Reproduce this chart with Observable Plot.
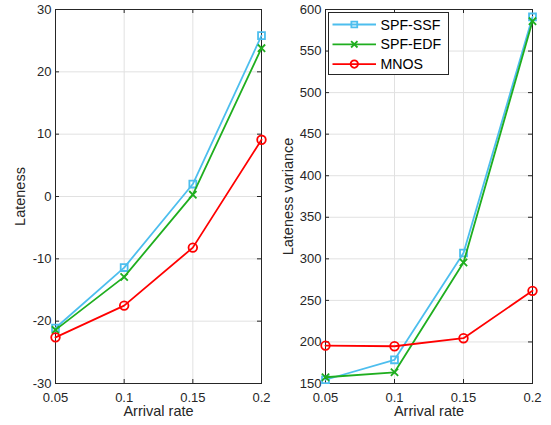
<!DOCTYPE html>
<html>
<head>
<meta charset="utf-8">
<script src="https://cdn.jsdelivr.net/npm/d3@7"></script>
<script src="https://cdn.jsdelivr.net/npm/@observablehq/plot@0.6"></script>
<style>
  html, body { margin: 0; padding: 0; background: #fff; }
  #wrap { position: relative; width: 551px; height: 425px; font-family: "Liberation Sans", Arial, sans-serif; }
  #wrap > svg, #wrap > div { position: absolute; top: 0; }
</style>
</head>
<body>
<div id="wrap"></div>
<script>
const rates = [0.05, 0.1, 0.15, 0.2];
const xTicks = [0.05, 0.1, 0.15, 0.2];
const xTickLabels = ["0.05", "0.1", "0.15", "0.2"];
const seriesNames = ["SPF-SSF", "SPF-EDF", "MNOS"];
const seriesColors = ["#4dbeee", "#1fae1f", "#ff0000"];
const seriesSymbols = ["square", "times", "circle"];
const latSSF = [-21.1, -11.4, 2.0, 25.8];
const latEDF = [-21.4, -12.9, 0.3, 23.8];
const latMNOS = [-22.6, -17.5, -8.2, 9.1];
const varSSF = [154.5, 178.5, 307, 591];
const varEDF = [157.5, 163.5, 295.5, 586];
const varMNOS = [195.6, 194.8, 204.5, 261.5];
const latTicks = [-30, -20, -10, 0, 10, 20, 30];
const varTicks = [150, 200, 250, 300, 350, 400, 450, 500, 550, 600];

const FONT = '"Liberation Sans", Arial, sans-serif';

function makePanel({width, ml, mr, series, yDomain, yTicks, yLabel}) {
  const height = 425, mt = 9, mb = 42;
  const pw = width - ml - mr, ph = height - mt - mb;
  const tk = 4;
  const rows = [];
  series.forEach((vals, si) => vals.forEach((v, i) => rows.push({x: rates[i], y: v, s: seriesNames[si]})));
  const marks = [
    Plot.gridX(xTicks, {stroke: "#e1e1e1", strokeOpacity: 1}),
    Plot.gridY(yTicks, {stroke: "#e1e1e1", strokeOpacity: 1}),
    // inward ticks on all four sides
    Plot.tickY(yTicks, {y: d => d, insetRight: pw - tk, stroke: "#262626"}),
    Plot.tickY(yTicks, {y: d => d, insetLeft: pw - tk, stroke: "#262626"}),
    Plot.tickX(xTicks, {x: d => d, insetTop: ph - tk, stroke: "#262626"}),
    Plot.tickX(xTicks, {x: d => d, insetBottom: ph - tk, stroke: "#262626"}),
    Plot.axisX(xTicks, {tickSize: 0, tickPadding: 9, tickFormat: (d, i) => xTickLabels[i], fontSize: 13, fill: "#262626", label: null}),
    Plot.axisY(yTicks, {tickSize: 0, tickPadding: 4, tickFormat: d => String(d), fontSize: 13, fill: "#262626", label: null}),
    Plot.frame({stroke: "#262626"}),
  ];
  seriesNames.forEach((name, si) => {
    const data = rows.filter(r => r.s === name);
    marks.push(Plot.line(data, {x: "x", y: "y", stroke: seriesColors[si], strokeWidth: 1.8}));
    marks.push(Plot.dot(data, {x: "x", y: "y", stroke: seriesColors[si], fill: "none", strokeWidth: 1.8,
      symbol: seriesSymbols[si], r: si === 0 ? 3.9 : si === 1 ? 3.4 : 4.3}));
  });
  marks.push(Plot.text(["Arrival rate"], {text: d => d, frameAnchor: "bottom", dy: 28, lineAnchor: "middle", fontSize: 14.5, fill: "#262626"}));
  marks.push(Plot.text([yLabel], {text: d => d, frameAnchor: "left", dx: ml === 55 ? -35 : -37, rotate: -90, lineAnchor: "middle", textAnchor: "middle", fontSize: 14.5, fill: "#262626"}));
  return Plot.plot({
    width, height, marginLeft: ml, marginRight: mr, marginTop: mt, marginBottom: mb,
    style: {fontFamily: FONT, background: "transparent", overflow: "visible"},
    x: {domain: [0.05, 0.2]},
    y: {domain: yDomain},
    marks
  });
}

const wrap = document.getElementById("wrap");
const left = makePanel({width: 275, ml: 55, mr: 14, series: [latSSF, latEDF, latMNOS], yDomain: [-30, 30], yTicks: latTicks, yLabel: "Lateness"});
left.style.left = "0px";
wrap.appendChild(left);
const right = makePanel({width: 276, ml: 50, mr: 19, series: [varSSF, varEDF, varMNOS], yDomain: [150, 600], yTicks: varTicks, yLabel: "Lateness variance"});
right.style.left = "275px";
wrap.appendChild(right);

// legend
const lg = d3.create("svg").attr("width", 121).attr("height", 63)
  .style("position", "absolute").style("left", "328px").style("top", "12px");
lg.append("rect").attr("x", 0.5).attr("y", 0.5).attr("width", 120).attr("height", 62)
  .attr("fill", "#fff").attr("stroke", "#262626");
seriesNames.forEach((name, i) => {
  const cy = 12.5 + i * 19.8;
  const g = lg.append("g");
  g.append("line").attr("x1", 4.5).attr("x2", 48).attr("y1", cy).attr("y2", cy)
    .attr("stroke", seriesColors[i]).attr("stroke-width", 1.8);
  const sym = {square: d3.symbolSquare, times: d3.symbolTimes, circle: d3.symbolCircle}[seriesSymbols[i]];
  const r = i === 0 ? 3.3 : i === 1 ? 3.0 : 3.7;
  g.append("path").attr("d", d3.symbol(sym, r * r * Math.PI)()).attr("transform", `translate(26.3,${cy})`)
    .attr("fill", "none").attr("stroke", seriesColors[i]).attr("stroke-width", 1.8);
  g.append("text").attr("x", 52.5).attr("y", cy).attr("dy", "0.36em")
    .attr("font-family", FONT).attr("font-size", 14.2).attr("fill", "#000").text(name);
});
wrap.appendChild(lg.node());
</script>
</body>
</html>
